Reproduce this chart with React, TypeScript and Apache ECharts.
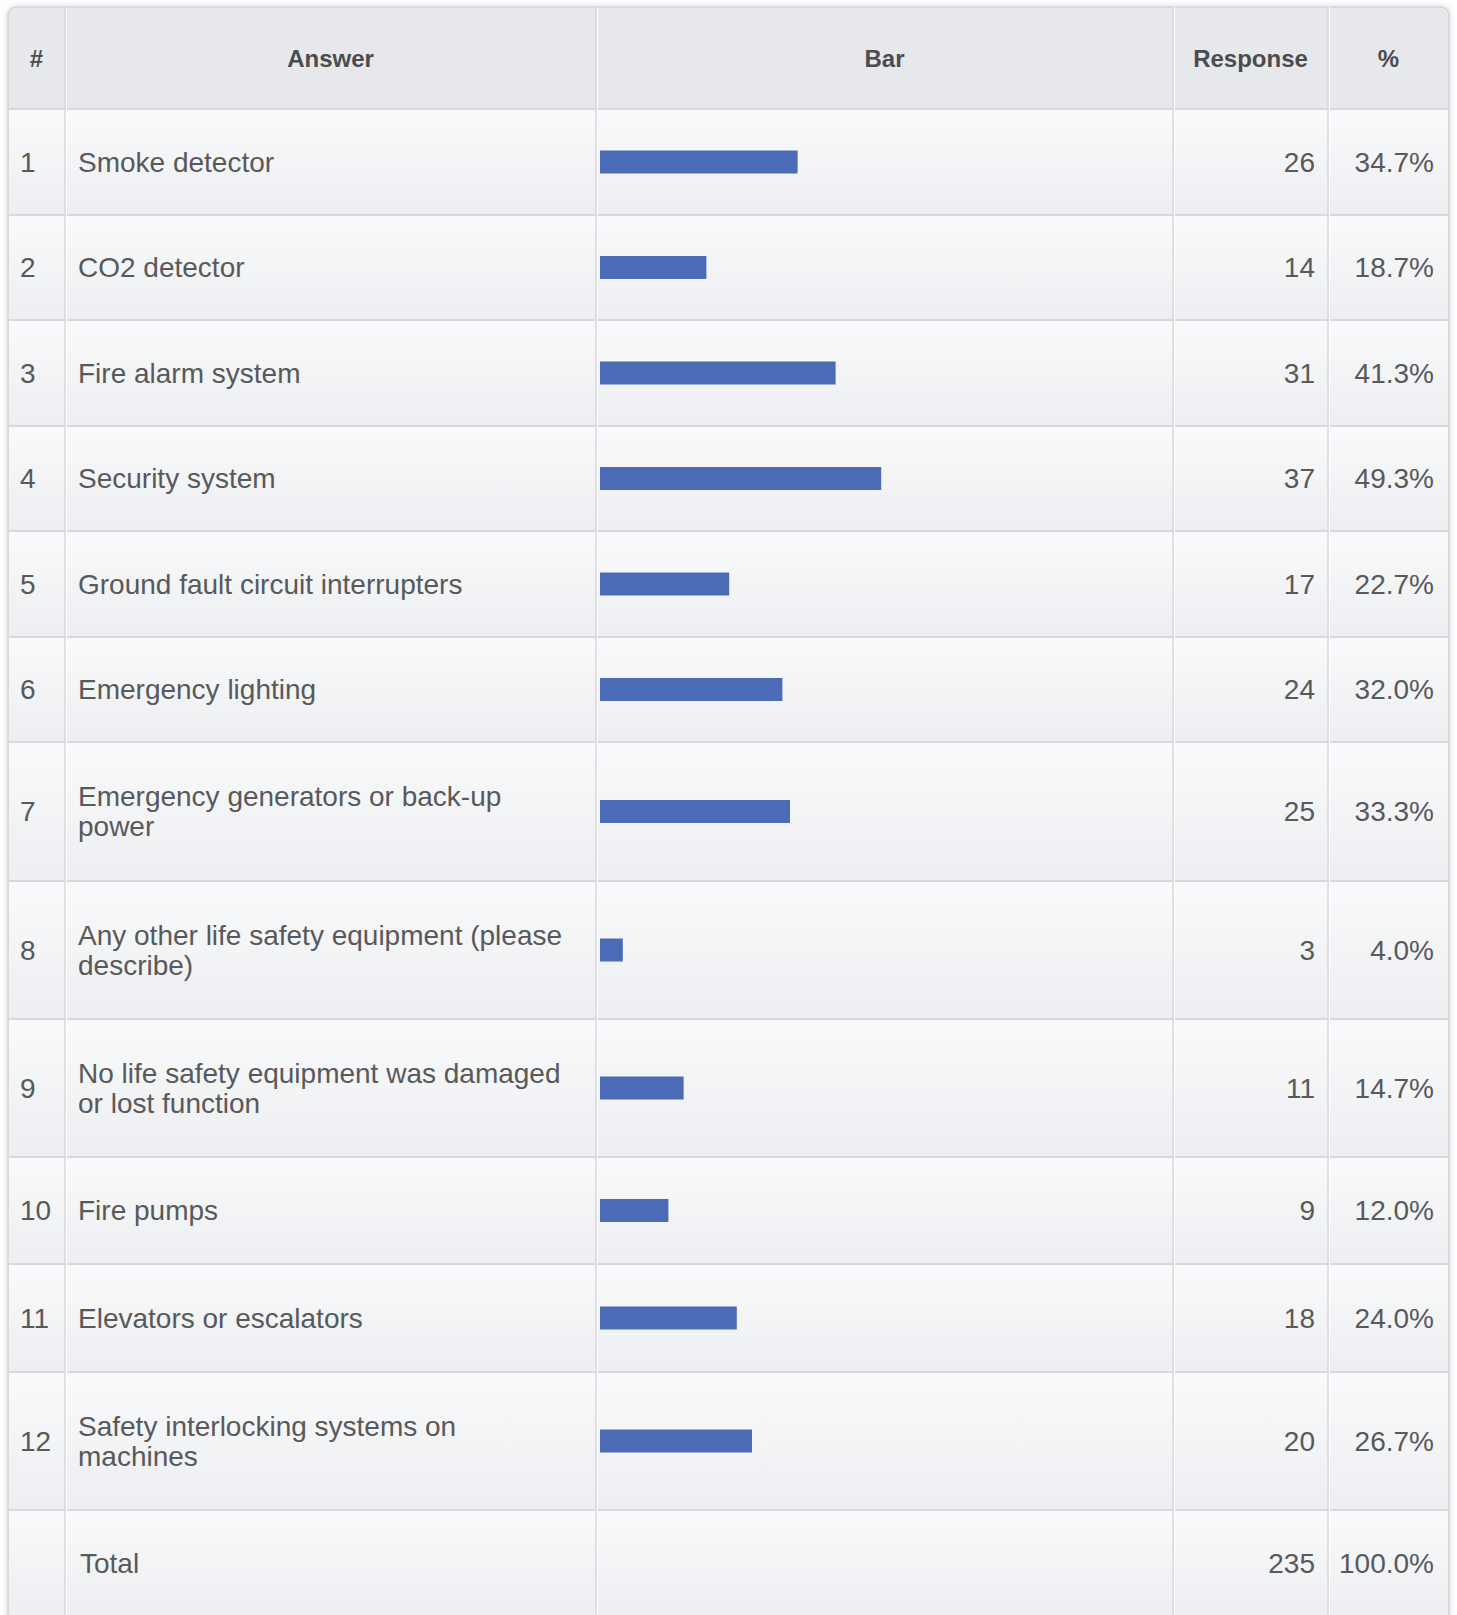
import React, { useEffect, useRef } from "react";
import * as echarts from "echarts";

// ---------- data ----------
const rowNumbers = ["1", "2", "3", "4", "5", "6", "7", "8", "9", "10", "11", "12"];
const answers = [
  "Smoke detector",
  "CO2 detector",
  "Fire alarm system",
  "Security system",
  "Ground fault circuit interrupters",
  "Emergency lighting",
  "Emergency generators or back-up\npower",
  "Any other life safety equipment (please\ndescribe)",
  "No life safety equipment was damaged\nor lost function",
  "Fire pumps",
  "Elevators or escalators",
  "Safety interlocking systems on\nmachines",
];
const responses = [26, 14, 31, 37, 17, 24, 25, 3, 11, 9, 18, 20];
const percents = ["34.7%", "18.7%", "41.3%", "49.3%", "22.7%", "32.0%", "33.3%", "4.0%", "14.7%", "12.0%", "24.0%", "26.7%"];
const headers = ["#", "Answer", "Bar", "Response", "%"];
const totalLabel = "Total";
const totalResponses = "235";
const totalPercent = "100.0%";
const respondents = 75; // bar scale maximum (100%)

// ---------- layout ----------
const W = 1457;
const H = 1615;
const COLS = [8, 65, 596, 1173, 1328, 1449];
const TABLE_T = 7;
const HEADER_B = 109;
const ROW_H = [106, 105, 106, 105, 106, 105, 139, 138, 138, 107, 108, 138];
const TOTAL_H = 106;
const BAR_LEFT = 600;
const BAR_WIDTH = 570;
const BAR_THICK = 23;

const FONT = "'Liberation Sans', Arial, Helvetica, sans-serif";
const TEXT_COLOR = "#58595b";
const HEAD_COLOR = "#4b4c4e";
const BAR_COLOR = "#4b6bb6";

export default function App() {
  const ref = useRef<HTMLDivElement>(null);

  useEffect(() => {
    if (!ref.current) return;
    const chart = echarts.init(ref.current, undefined, { renderer: "svg" });

    const tops: number[] = [];
    let y = HEADER_B;
    ROW_H.forEach((h) => {
      tops.push(y);
      y += h;
    });
    const totalTop = y;

    const graphics: any[] = [];
    // table base
    graphics.push({
      type: "rect",
      z: 0,
      shape: { x: COLS[0], y: TABLE_T, width: COLS[5] - COLS[0], height: H - TABLE_T + 20, r: [8, 8, 0, 0] },
      style: { fill: "#e7e8eb", stroke: "#d3d4d7", lineWidth: 1.5, shadowBlur: 6, shadowColor: "rgba(0,0,0,0.15)" },
    });
    const rowRects = [...ROW_H.map((h, i) => [tops[i], h]), [totalTop, TOTAL_H]];
    rowRects.forEach(([t, h]) => {
      graphics.push({
        type: "rect",
        z: 1,
        shape: { x: COLS[0] + 1, y: t + 1, width: COLS[5] - COLS[0] - 2, height: h - 1 },
        style: {
          fill: new echarts.graphic.LinearGradient(0, 0, 0, 1, [
            { offset: 0, color: "#f9fafb" },
            { offset: 1, color: "#eceef1" },
          ]),
        },
      });
      graphics.push({
        type: "line",
        z: 2,
        shape: { x1: COLS[0], y1: t, x2: COLS[5], y2: t },
        style: { stroke: "#d7d9dc", lineWidth: 2 },
      });
    });
    // vertical dividers
    COLS.slice(1, 5).forEach((x) => {
      graphics.push({
        type: "line",
        z: 2,
        shape: { x1: x, y1: TABLE_T, x2: x, y2: H },
        style: { stroke: "#d8d9dc", lineWidth: 1.5 },
      });
      graphics.push({
        type: "line",
        z: 2,
        shape: { x1: x + 1.5, y1: TABLE_T, x2: x + 1.5, y2: H },
        style: { stroke: "#ffffff", lineWidth: 1 },
      });
    });

    const txt = (text: string, x: number, yy: number, align: string, opts: any = {}) => ({
      type: "text",
      z: 10,
      x,
      y: yy,
      style: {
        text,
        fontFamily: FONT,
        fontSize: opts.fontSize || 28,
        fontWeight: opts.fontWeight || "normal",
        fill: opts.fill || TEXT_COLOR,
        textAlign: align,
        textVerticalAlign: "middle",
        align,
        verticalAlign: "middle",
        lineHeight: 30,
      },
    });

    // headers
    const headY = (TABLE_T + HEADER_B) / 2;
    headers.forEach((hd, i) => {
      const cx = (COLS[i] + COLS[i + 1]) / 2;
      graphics.push(txt(hd, cx, headY, "center", { fontSize: 24, fontWeight: "bold", fill: HEAD_COLOR }));
    });

    // rows
    ROW_H.forEach((h, i) => {
      const cy = tops[i] + h / 2;
      graphics.push(txt(rowNumbers[i], 20, cy, "left"));
      graphics.push(txt(answers[i], 78, cy, "left"));
      graphics.push(txt(String(responses[i]), 1315, cy, "right"));
      graphics.push(txt(percents[i], 1434, cy, "right"));
    });
    const tcy = totalTop + TOTAL_H / 2;
    graphics.push(txt(totalLabel, 80, tcy, "left"));
    graphics.push(txt(totalResponses, 1315, tcy, "right"));
    graphics.push(txt(totalPercent, 1434, tcy, "right"));

    const grids: any[] = [];
    const xAxes: any[] = [];
    const yAxes: any[] = [];
    const series: any[] = [];
    responses.forEach((v, i) => {
      grids.push({ left: BAR_LEFT, width: BAR_WIDTH, top: tops[i], height: ROW_H[i], containLabel: false });
      xAxes.push({ type: "value", gridIndex: i, min: 0, max: respondents, show: false });
      yAxes.push({ type: "category", gridIndex: i, data: [rowNumbers[i]], show: false });
      series.push({
        type: "bar",
        xAxisIndex: i,
        yAxisIndex: i,
        data: [v],
        barWidth: BAR_THICK,
        itemStyle: { color: BAR_COLOR },
        silent: true,
        z: 5,
      });
    });

    chart.setOption({
      animation: false,
      backgroundColor: "#ffffff",
      grid: grids,
      xAxis: xAxes,
      yAxis: yAxes,
      series,
      graphic: { elements: graphics },
    });

    return () => chart.dispose();
  }, []);

  return (
    <div
      ref={ref}
      style={{ position: "absolute", left: 0, top: 0, width: W, height: H }}
    />
  );
}
